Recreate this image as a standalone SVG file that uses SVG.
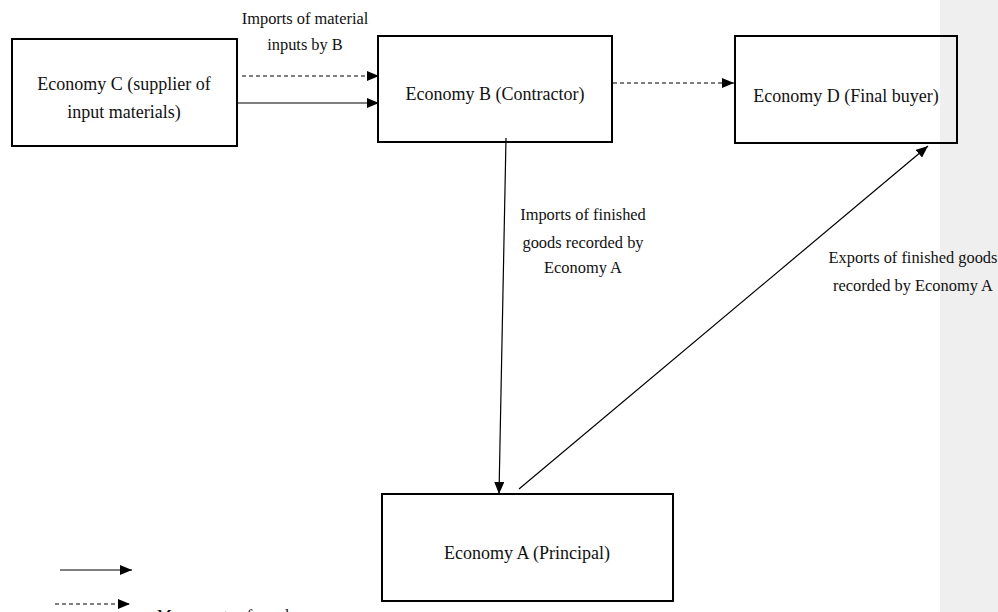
<svg xmlns="http://www.w3.org/2000/svg" width="998" height="612" viewBox="0 0 998 612">
<defs>
<style>
.box{fill:none;stroke:#000;stroke-width:2}
.t{font-family:"Liberation Serif","Times New Roman",serif;font-size:18px;fill:#111;text-anchor:middle}
.l{font-family:"Liberation Serif","Times New Roman",serif;font-size:16.4px;fill:#111;text-anchor:middle}
.ln{stroke:#000;stroke-width:1.2;fill:none}
.dash{stroke-dasharray:4 3}
</style>
<marker id="ah" viewBox="0 0 12 10" refX="12" refY="5" markerWidth="12" markerHeight="10" markerUnits="userSpaceOnUse" orient="auto">
<path d="M0,0 L12,5 L0,10 Z" fill="#000"/>
</marker>
</defs>
<rect x="0" y="0" width="998" height="612" fill="#fff"/>
<rect x="940" y="0" width="58" height="612" fill="#efefef"/>
<g id="nodeC"><rect class="box" x="12" y="39" width="225" height="107"/>
<text class="t" x="124" y="90">Economy C (supplier of</text>
<text class="t" x="124" y="118">input materials)</text></g>
<g id="nodeB"><rect class="box" x="378" y="36" width="234" height="106"/>
<text class="t" x="495" y="100">Economy B (Contractor)</text></g>
<g id="nodeD"><rect class="box" x="735" y="36" width="222" height="107"/>
<text class="t" x="846" y="102">Economy D (Final buyer)</text></g>
<g id="nodeA"><rect class="box" x="382" y="494" width="291" height="107"/>
<text class="t" x="527" y="559">Economy A (Principal)</text></g>
<g id="connectors">
<line class="ln dash" x1="242" y1="76" x2="379" y2="76" marker-end="url(#ah)"/>
<line class="ln" x1="237" y1="103" x2="379" y2="103" marker-end="url(#ah)"/>
<line class="ln dash" x1="613" y1="83" x2="734" y2="83" marker-end="url(#ah)"/>
<line class="ln" x1="506" y1="138" x2="499" y2="494" marker-end="url(#ah)"/>
<line class="ln" x1="519" y1="489" x2="928" y2="146" marker-end="url(#ah)"/>
<line class="ln" x1="60" y1="570" x2="132" y2="570" marker-end="url(#ah)"/>
<line class="ln dash" x1="55" y1="604" x2="130" y2="604" marker-end="url(#ah)"/>
</g>
<g id="labels">
<text class="l" x="305" y="24">Imports of material</text>
<text class="l" x="305" y="50">inputs by B</text>
<text class="l" x="583" y="220">Imports of finished</text>
<text class="l" x="583" y="248">goods recorded by</text>
<text class="l" x="583" y="273">Economy A</text>
<text class="l" x="913" y="263">Exports of finished goods</text>
<text class="l" x="913" y="291">recorded by Economy A</text>
<text class="l" x="157" y="621" style="text-anchor:start">Movements of goods</text>
</g>
</svg>
